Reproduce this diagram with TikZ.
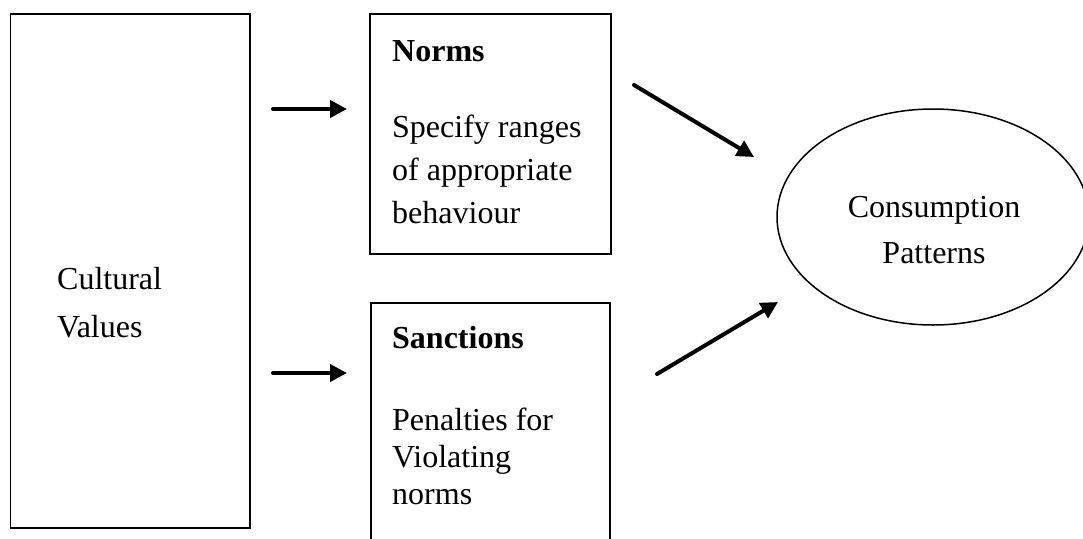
\documentclass[tikz,border=0pt]{standalone}
\usepackage{fontspec}
\setmainfont{Liberation Serif}
\usetikzlibrary{arrows.meta,shapes.geometric}
\begin{document}
\begin{tikzpicture}[x=1pt,y=-1pt,
  box/.style={draw, line width=1.5pt, inner sep=0pt, anchor=north west},
  lbl/.style={anchor=base west, inner sep=0pt, align=left},
  arr/.style={line width=4pt, line cap=round, -{Triangle[length=17pt,width=17pt]}},
]
\useasboundingbox (0,0) rectangle (1083,538);
\clip (0,0) rectangle (1083,538);
% boxes
\node[box, minimum width=239.5pt, minimum height=514pt] (cv) at (9.5,13) {};
\node[box, minimum width=241pt, minimum height=240pt] (norms) at (369,13) {};
\node[box, minimum width=239pt, minimum height=300pt] (sanc) at (370,302) {};
\node[draw, ellipse, line width=1.5pt, minimum width=312pt, minimum height=216pt, inner sep=0pt] (cons) at (933,217) {};
% texts (base anchor = baseline of the last line)
\node[lbl, font=\fontsize{32}{48}\selectfont] (cvt) at (57,337) {Cultural\\Values};
\node[lbl, font=\fontsize{32}{40}\selectfont\bfseries] (nh) at (392,61) {Norms};
\node[lbl, font=\fontsize{32}{43}\selectfont] (nb) at (392,223) {Specify ranges\\of appropriate\\behaviour};
\node[lbl, font=\fontsize{32}{40}\selectfont\bfseries] (sh) at (392,348) {Sanctions};
\node[lbl, font=\fontsize{32}{37}\selectfont] (sb) at (392,504) {Penalties for\\Violating\\norms};
\node[lbl, anchor=base, align=center, font=\fontsize{32}{46}\selectfont] (ct) at (934,263) {Consumption\\Patterns};
% arrows
\coordinate (a1s) at (273,109); \coordinate (a1e) at (347,109);
\coordinate (a2s) at (273,373); \coordinate (a2e) at (347,373);
\coordinate (a3s) at (634,85);  \coordinate (a3e) at (754,157);
\coordinate (a4s) at (657,374); \coordinate (a4e) at (778,302);
\draw[arr] (a1s) -- (a1e);
\draw[arr] (a2s) -- (a2e);
\draw[arr] (a3s) -- (a3e);
\draw[arr] (a4s) -- (a4e);
\end{tikzpicture}
\end{document}
